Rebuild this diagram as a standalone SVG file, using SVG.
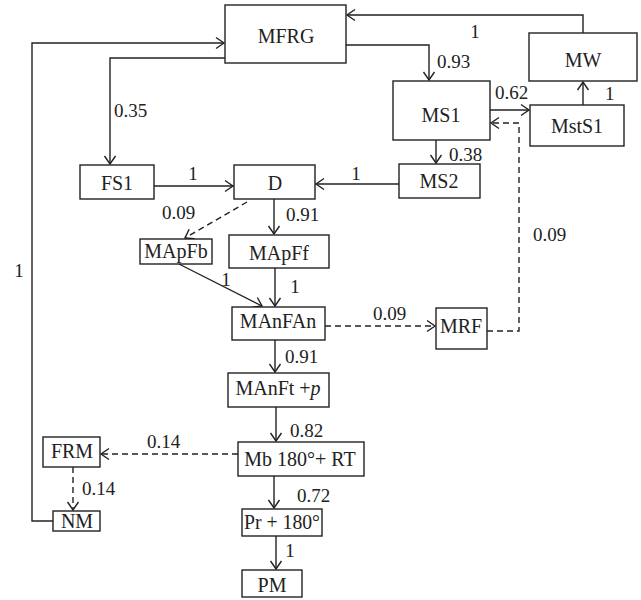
<svg xmlns="http://www.w3.org/2000/svg" width="641" height="600" viewBox="0 0 641 600">
<style>
.box{fill:#fff;stroke:#222;stroke-width:1.4}
.t{font-family:"Liberation Serif","Times New Roman",serif;font-size:20px;fill:#222;text-anchor:middle}
.l{font-family:"Liberation Serif","Times New Roman",serif;font-size:19px;fill:#222}
.c{fill:none;stroke:#222;stroke-width:1.4;marker-end:url(#ah)}
.d{stroke-dasharray:6,4}
</style>
<defs>
<marker id="ah" markerUnits="userSpaceOnUse" viewBox="-10 -7 12 14" refX="0" refY="0" markerWidth="12" markerHeight="14" orient="auto">
<path d="M-8,-5.5 L0,0 L-8,5.5" fill="none" stroke="#222" stroke-width="1.4"/>
</marker>
</defs>
<rect width="641" height="600" fill="#fff"/>
<g id="connectors">
<path class="c" d="M583,33 V15 H347"/>
<path class="c" d="M346,45 H429 V80"/>
<path class="c" d="M225,58 H110 V164"/>
<path class="c" d="M53,521 H32 V43 H224"/>
<path class="c" d="M490,110 H529"/>
<path class="c" d="M583,105 V82"/>
<path class="c" d="M436,140 V163"/>
<path class="c" d="M399,184 H316"/>
<path class="c" d="M154,186 H233"/>
<path class="c d" d="M247,202 L185,238"/>
<path class="c" d="M274,199 V234"/>
<path class="c" d="M179,264 L262,306"/>
<path class="c" d="M275,268 V306"/>
<path class="c d" d="M325,326 H435"/>
<path class="c d" d="M487,331 H519 V123 H491"/>
<path class="c" d="M275,340 V372"/>
<path class="c" d="M276,407 V441"/>
<path class="c d" d="M238,454 H101"/>
<path class="c d" d="M73,467 V510"/>
<path class="c" d="M274,476 V508"/>
<path class="c" d="M276,536 V569"/>
</g>
<g id="labels">
<text class="l" x="475" y="38" text-anchor="middle">1</text>
<text class="l" x="437" y="68">0.93</text>
<text class="l" x="495" y="99">0.62</text>
<text class="l" x="605" y="100">1</text>
<text class="l" x="449" y="161">0.38</text>
<text class="l" x="356" y="180" text-anchor="middle">1</text>
<text class="l" x="114" y="117">0.35</text>
<text class="l" x="193" y="180" text-anchor="middle">1</text>
<text class="l" x="162" y="219">0.09</text>
<text class="l" x="286" y="221">0.91</text>
<text class="l" x="226" y="286" text-anchor="middle">1</text>
<text class="l" x="295" y="293" text-anchor="middle">1</text>
<text class="l" x="285" y="363">0.91</text>
<text class="l" x="373" y="320">0.09</text>
<text class="l" x="533" y="241">0.09</text>
<text class="l" x="290" y="437">0.82</text>
<text class="l" x="147" y="448">0.14</text>
<text class="l" x="82" y="495">0.14</text>
<text class="l" x="297" y="502">0.72</text>
<text class="l" x="290" y="557" text-anchor="middle">1</text>
<text class="l" x="19" y="277" text-anchor="middle">1</text>
</g>
<g id="MFRG"><rect class="box" x="225" y="5" width="121" height="58"/><text class="t" x="286" y="43">MFRG</text></g>
<g id="MW"><rect class="box" x="529" y="33" width="108" height="48"/><text class="t" x="583" y="67">MW</text></g>
<g id="MstS1"><rect class="box" x="530" y="105" width="94" height="41"/><text class="t" x="577" y="133">MstS1</text></g>
<g id="MS1"><rect class="box" x="393" y="81" width="97" height="59"/><text class="t" x="441" y="122">MS1</text></g>
<g id="MS2"><rect class="box" x="399" y="164" width="81" height="34"/><text class="t" x="439" y="188">MS2</text></g>
<g id="FS1"><rect class="box" x="80" y="165" width="74" height="34"/><text class="t" x="117" y="190">FS1</text></g>
<g id="D"><rect class="box" x="234" y="165" width="81" height="34"/><text class="t" x="275" y="190">D</text></g>
<g id="MApFb"><rect class="box" x="140" y="239" width="72" height="25"/><text class="t" x="176" y="258">MApFb</text></g>
<g id="MApFf"><rect class="box" x="229" y="235" width="100" height="33"/><text class="t" x="279" y="260">MApFf</text></g>
<g id="MAnFAn"><rect class="box" x="232" y="307" width="93" height="33"/><text class="t" x="278" y="328">MAnFAn</text></g>
<g id="MRF"><rect class="box" x="436" y="308" width="51" height="41"/><text class="t" x="461" y="333">MRF</text></g>
<g id="MAnFt"><rect class="box" x="228" y="373" width="101" height="34"/><text class="t" x="278" y="395">MAnFt +<tspan font-style="italic">p</tspan></text></g>
<g id="Mb"><rect class="box" x="238" y="442" width="126" height="34"/><text class="t" x="300" y="466">Mb 180°+ RT</text></g>
<g id="FRM"><rect class="box" x="43" y="437" width="57" height="30"/><text class="t" x="72" y="458">FRM</text></g>
<g id="NM"><rect class="box" x="53" y="511" width="47" height="20"/><text class="t" x="77" y="528">NM</text></g>
<g id="Pr"><rect class="box" x="242" y="509" width="80" height="27"/><text class="t" x="282" y="529" textLength="76" lengthAdjust="spacingAndGlyphs">Pr + 180°</text></g>
<g id="PM"><rect class="box" x="242" y="570" width="60" height="27"/><text class="t" x="272" y="592">PM</text></g>
</svg>
